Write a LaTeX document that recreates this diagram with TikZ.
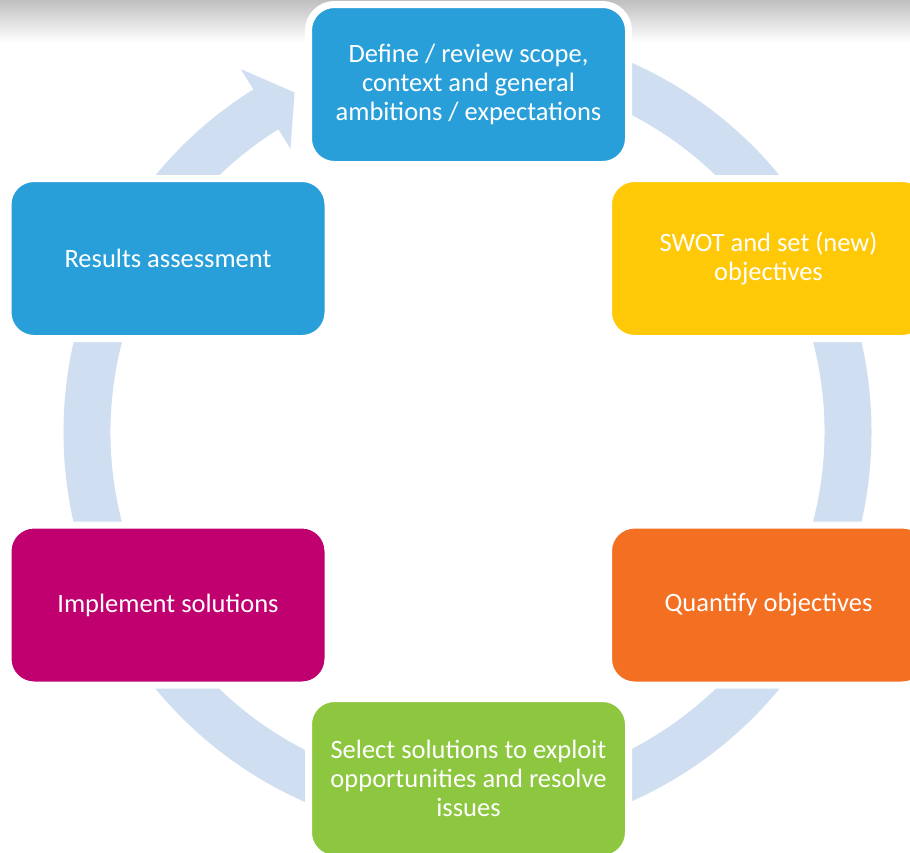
\documentclass[tikz,border=0pt]{standalone}
\usepackage{fontspec}
\setmainfont{Carlito}
\usetikzlibrary{calc}
\definecolor{ringc}{RGB}{207,222,240}
\definecolor{cblue}{RGB}{41,159,217}
\definecolor{cyellow}{RGB}{255,201,8}
\definecolor{corange}{RGB}{243,112,34}
\definecolor{cmagenta}{RGB}{192,0,111}
\definecolor{cgreen}{RGB}{141,198,63}
\tikzset{
  stagebox/.style={rounded corners=26pt, minimum width=320pt, minimum height=160pt,
    text=white, align=center, draw=white, line width=7pt, inner sep=0pt,
    font=\fontsize{26.5}{29}\selectfont}
}
\begin{document}
\begin{tikzpicture}[x=1pt,y=1pt]
\clip (0,0) rectangle (910,-852);
\fill[white] (0,0) rectangle (910,-852);
\shade[top color=black!25, bottom color=white] (0,0) rectangle (910,-42);
\coordinate (C) at (467.5,-432);
% ring arrow
\fill[ringc] ($(C)+(90:404)$) arc[start angle=90, end angle=-238, radius=404pt]
  -- ($(C)+(-238:428)$) -- ($(C)+(-243:381)$) -- ($(C)+(-238:334)$)
  -- ($(C)+(-238:357)$) arc[start angle=-238, end angle=90, radius=357pt] -- cycle;
% boxes
\node[stagebox, fill=cblue] (top) at (468.5,-84.5) {Define / review scope,\\context and general\\ambitions / expectations};
\node[stagebox, fill=cyellow] (swot) at (768.5,-258.5) {SWOT and set (new)\\objectives};
\node[stagebox, fill=corange] (quant) at (768.5,-605) {Quantify objectives};
\node[stagebox, fill=cgreen] (select) at (468.5,-778.5) {Select solutions to exploit\\opportunities and resolve\\issues};
\node[stagebox, fill=cmagenta] (impl) at (168,-605) {Implement solutions};
\node[stagebox, fill=cblue] (results) at (168,-258.5) {Results assessment};
\end{tikzpicture}
\end{document}
